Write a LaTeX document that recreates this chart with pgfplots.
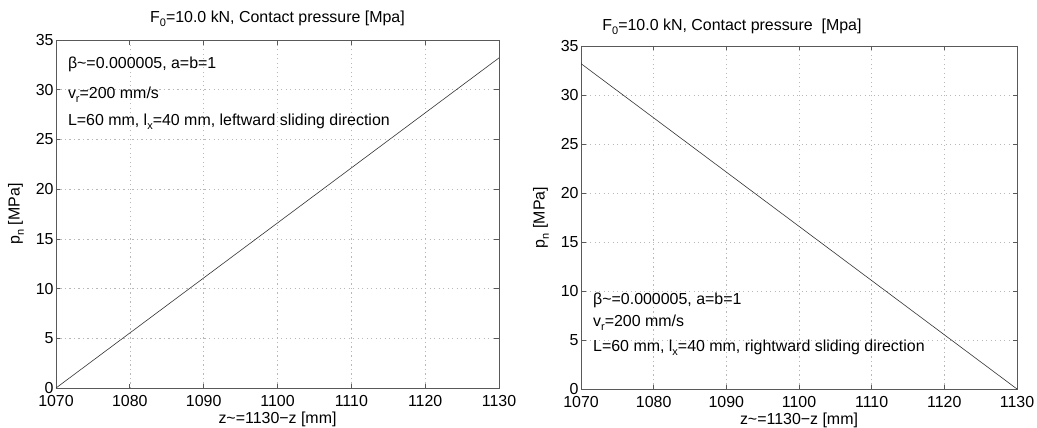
\documentclass[border=0pt]{standalone}
\usepackage{fontspec}
\setmainfont{Liberation Sans}
\usepackage{pgfplots}
\pgfplotsset{compat=1.18}
\newcommand\sub[1]{\raisebox{-0.5ex}{\fontsize{11}{10}\selectfont #1}}
\newcommand\fs{\fontsize{16}{19}\selectfont}
\begin{document}
\fs
\begin{tikzpicture}
\path[use as bounding box] (-56bp,-40bp) rectangle (981bp,388bp);
\pgfplotsset{
  every axis/.append style={
    scale only axis,
    xmin=1070, xmax=1130, ymin=0, ymax=35,
    xtick={1070,1080,...,1130}, ytick={0,5,...,35},
    grid=major,
    major grid style={dash pattern=on 1.2bp off 3.3bp, black!28, line width=0.6pt},
    axis line style={black!65, line width=0.7pt},
    tick style={black!65, line width=0.7pt},
    major tick length=4.5bp,
    tick label style={font=\fs},
    label style={font=\fs},
    /pgf/number format/assume math mode=true,
    /pgf/number format/1000 sep={},
    xlabel={z\textasciitilde=1130−z [mm]},
    ylabel={p\sub{n} [MPa]},
    xticklabel style={yshift=-1.5bp},
    xlabel style={yshift=5bp},
    yticklabel style={xshift=3bp},
    ylabel style={yshift=1bp},
  }
}
\begin{axis}[at={(0bp,0bp)}, anchor=south west, width=443bp, height=348bp,
  title={F\sub{0}=10.0 kN, Contact pressure [Mpa]},
  title style={font=\fs, yshift=2bp}]
\addplot[black!80, line width=0.6pt] coordinates {(1070,0) (1130,33.2)};
\node[anchor=west, inner sep=0pt, font=\fs] at (axis cs:1071.6,32.5) {β\textasciitilde=0.000005, a=b=1};
\node[anchor=west, inner sep=0pt, font=\fs] at (axis cs:1071.6,29.5) {v\sub{r}=200 mm/s};
\node[anchor=west, inner sep=0pt, font=\fs] at (axis cs:1071.6,26.8) {L=60 mm, l\sub{x}=40 mm, leftward sliding direction};
\end{axis}
\begin{axis}[at={(525bp,-1bp)}, anchor=south west, width=436bp, height=343bp,
  title={F\sub{0}=10.0 kN, Contact pressure \ [Mpa]},
  title style={font=\fs, xshift=-67bp, yshift=0bp}]
\addplot[black!80, line width=0.6pt] coordinates {(1070,33.2) (1130,0)};
\node[anchor=west, inner sep=0pt, font=\fs] at (axis cs:1071.65,9.08) {β\textasciitilde=0.000005, a=b=1};
\node[anchor=west, inner sep=0pt, font=\fs] at (axis cs:1071.65,6.73) {v\sub{r}=200 mm/s};
\node[anchor=west, inner sep=0pt, font=\fs] at (axis cs:1071.65,4.18) {L=60 mm, l\sub{x}=40 mm, rightward sliding direction};
\end{axis}
\end{tikzpicture}
\end{document}
